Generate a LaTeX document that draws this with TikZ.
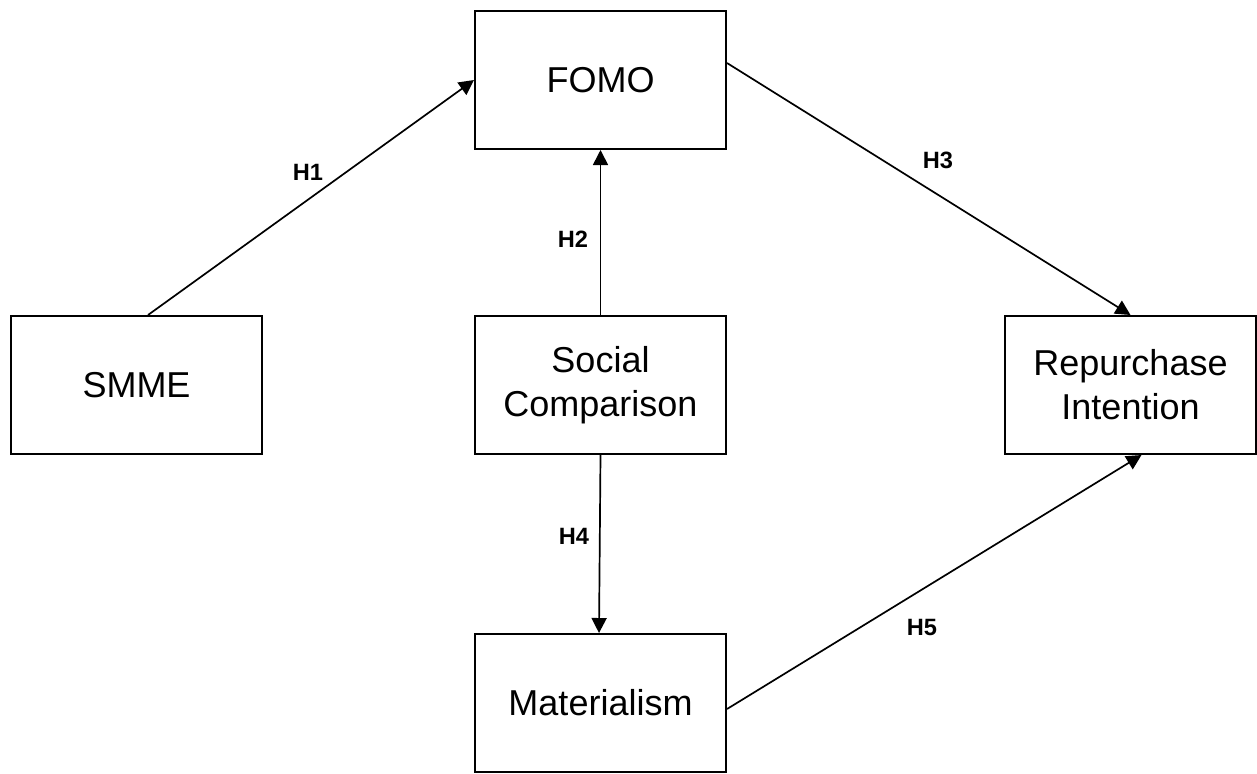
\documentclass[tikz,border=0pt]{standalone}
\usepackage{fontspec}
\setmainfont{Liberation Sans}
\usetikzlibrary{arrows.meta}

\begin{document}
\begin{tikzpicture}[x=0.5pt, y=-0.5pt,
		box/.style={draw, line width=1pt, fill=white, minimum width=125.5pt, minimum height=69pt, inner sep=0pt, align=center, font=\fontsize{18}{22}\selectfont},
		hyp/.style={font=\bfseries\fontsize{11.8}{14}\selectfont, inner sep=0pt},
		arr/.style={-{Triangle[length=7.5pt, width=7.5pt]}, line width=0.85pt}]
			%%%%% START %%%%%
			
			\useasboundingbox (0, 0) rectangle (1257, 773);
			
			\node[box] (fomo) at (600.5, 80) {FOMO};
			\node[box] (smme) at (136.5, 385) {SMME};
			\node[box] (social) at (600.5, 385) {Social\\Comparison};
			\node[box] (rep) at (1130.5, 385) {Repurchase\\Intention};
			\node[box] (mat) at (600.5, 703) {Materialism};
			
			\draw[arr] ([xshift=5.75pt]smme.north) -- (fomo.west);
			\draw[arr] (social.north) -- (fomo.south);
			\draw[arr] ([yshift=8.5pt]fomo.east) -- (rep.north);
			\draw[arr] (social.south) -- ([xshift=-0.75pt]mat.north);
			\draw[arr] ([yshift=-3pt]mat.east) -- ([xshift=5.5pt]rep.south);
			
			\node[hyp] (h1) at (308, 172) {H1};
			\node[hyp] (h2) at (573, 239) {H2};
			\node[hyp] (h3) at (938, 160) {H3};
			\node[hyp] (h4) at (574, 536) {H4};
			\node[hyp] (h5) at (922, 627) {H5};
			
			%%%%% END %%%%%
		\end{tikzpicture}
\end{document}
